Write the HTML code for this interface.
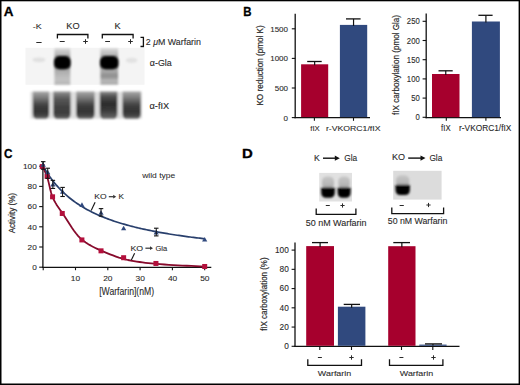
<!DOCTYPE html>
<html><head><meta charset="utf-8"><style>
html,body{margin:0;padding:0;background:#fff;width:520px;height:385px;overflow:hidden}
svg{display:block}
text{font-family:"Liberation Sans", sans-serif}
</style></head><body>
<svg width="520" height="385" viewBox="0 0 520 385" font-family="Liberation Sans, sans-serif"><defs>
<filter id="b05" x="-20%" y="-20%" width="140%" height="140%"><feGaussianBlur stdDeviation="0.5"/></filter>
<filter id="b08" x="-30%" y="-30%" width="160%" height="160%"><feGaussianBlur stdDeviation="0.8"/></filter>
<filter id="b1" x="-50%" y="-50%" width="200%" height="200%"><feGaussianBlur stdDeviation="1.1"/></filter>
<filter id="b15" x="-50%" y="-50%" width="200%" height="200%"><feGaussianBlur stdDeviation="1.5"/></filter>
<linearGradient id="lane" x1="0" y1="0" x2="0" y2="1">
<stop offset="0" stop-color="#a8a8a8"/><stop offset="0.22" stop-color="#7c7c7c"/><stop offset="0.5" stop-color="#404040"/><stop offset="0.75" stop-color="#323232"/><stop offset="0.9" stop-color="#474747"/><stop offset="1" stop-color="#6e6e6e"/></linearGradient>
<linearGradient id="lane2" x1="0" y1="0" x2="0" y2="1">
<stop offset="0" stop-color="#909090"/><stop offset="0.25" stop-color="#5a5a5a"/><stop offset="0.55" stop-color="#424242"/><stop offset="0.8" stop-color="#3c3c3c"/><stop offset="1" stop-color="#606060"/></linearGradient>
<linearGradient id="lane4" x1="0" y1="0" x2="0" y2="1">
<stop offset="0" stop-color="#8c8c8c"/><stop offset="0.2" stop-color="#4a4a4a"/><stop offset="0.45" stop-color="#2c2c2c"/><stop offset="0.7" stop-color="#3a3a3a"/><stop offset="1" stop-color="#6a6a6a"/></linearGradient>
<linearGradient id="smear" x1="0" y1="0" x2="0" y2="1">
<stop offset="0" stop-color="#8c8c8c"/><stop offset="0.25" stop-color="#acacac"/><stop offset="0.7" stop-color="#c2c2c2"/><stop offset="0.9" stop-color="#bcbcbc"/><stop offset="1" stop-color="#a4a4a4"/></linearGradient>
<linearGradient id="smear4" x1="0" y1="0" x2="0" y2="1">
<stop offset="0" stop-color="#8a8a8a"/><stop offset="0.22" stop-color="#aaaaaa"/><stop offset="0.38" stop-color="#a0a0a0"/><stop offset="0.5" stop-color="#8e8e8e"/><stop offset="0.62" stop-color="#999"/><stop offset="0.8" stop-color="#bababa"/><stop offset="1" stop-color="#a4a4a4"/></linearGradient>
<linearGradient id="topsm" x1="0" y1="0" x2="0" y2="1">
<stop offset="0" stop-color="#dadada"/><stop offset="0.6" stop-color="#b8b8b8"/><stop offset="1" stop-color="#9a9a9a"/></linearGradient>
<linearGradient id="dtop" x1="0" y1="0" x2="0" y2="1">
<stop offset="0" stop-color="#c6c6c6"/><stop offset="0.6" stop-color="#b8b8b8"/><stop offset="1" stop-color="#a8a8a8"/></linearGradient>
</defs>
<rect x="0.00" y="0.00" width="520.00" height="1.30" fill="#000"/>
<rect x="0.00" y="0.00" width="1.50" height="385.00" fill="#000"/>
<rect x="518.60" y="0.00" width="1.40" height="385.00" fill="#000"/>
<rect x="0.00" y="383.50" width="520.00" height="1.50" fill="#000"/>
<text transform="translate(3.86,16.20) scale(1.078,1)" font-size="12.46" font-weight="bold" fill="#000" stroke="#000" stroke-width="0.3">A</text>
<text transform="translate(32.80,29.00) scale(1.115,1)" font-size="7.97" fill="#2a2a2a" stroke="#2a2a2a" stroke-width="0.1">-K</text>
<text transform="translate(66.26,29.20) scale(1.074,1)" font-size="8.57" fill="#2a2a2a" stroke="#2a2a2a" stroke-width="0.1">KO</text>
<text transform="translate(114.56,29.00) scale(1.116,1)" font-size="8.26" fill="#2a2a2a" stroke="#2a2a2a" stroke-width="0.1">K</text>
<path d="M57.4,38.6 V34.5 H87.9 V38.6" stroke="#111" stroke-width="1.3" fill="none"/>
<path d="M102.3,38.4 V34.5 H133.1 V38.4" stroke="#111" stroke-width="1.3" fill="none"/>
<line x1="36.30" y1="42.50" x2="41.60" y2="42.50" stroke="#2a2a2a" stroke-width="1.0"/>
<line x1="59.70" y1="41.50" x2="64.70" y2="41.50" stroke="#2a2a2a" stroke-width="1.0"/>
<line x1="83.20" y1="41.50" x2="87.80" y2="41.50" stroke="#2a2a2a" stroke-width="1.0"/>
<line x1="85.50" y1="39.20" x2="85.50" y2="43.80" stroke="#2a2a2a" stroke-width="1.0"/>
<line x1="105.20" y1="41.50" x2="110.00" y2="41.50" stroke="#2a2a2a" stroke-width="1.0"/>
<line x1="128.20" y1="41.50" x2="132.80" y2="41.50" stroke="#2a2a2a" stroke-width="1.0"/>
<line x1="130.50" y1="39.20" x2="130.50" y2="43.80" stroke="#2a2a2a" stroke-width="1.0"/>
<path d="M140.5,37.3 H143.4 V46.5 H140.5" stroke="#111" stroke-width="1.3" fill="none"/>
<text transform="translate(145.76,44.80) scale(0.974,1)" font-size="9.10" fill="#2a2a2a" stroke="#2a2a2a" stroke-width="0.1">2 <tspan font-style="italic">μ</tspan>M Warfarin</text>
<text transform="translate(149.84,66.40) scale(1.009,1)" font-size="8.83" fill="#2a2a2a" stroke="#2a2a2a" stroke-width="0.1">α-Gla</text>
<text transform="translate(149.53,109.20) scale(1.062,1)" font-size="8.69" fill="#2a2a2a" stroke="#2a2a2a" stroke-width="0.1">α-fIX</text>
<g filter="url(#b05)">
<rect x="25.50" y="47.80" width="119.00" height="37.00" fill="#f4f4f4"/>
</g>
<ellipse cx="39" cy="59.8" rx="6.5" ry="2.4" fill="#e0e0e0" filter="url(#b1)"/>
<ellipse cx="131.6" cy="60.4" rx="5.8" ry="2.6" fill="#e2e2e2" filter="url(#b1)"/>
<g filter="url(#b08)"><rect x="54.4" y="48.3" width="15.899999999999993" height="10" fill="url(#topsm)"/><rect x="54.4" y="66" width="15.899999999999993" height="18.6" fill="url(#smear)"/></g><rect x="53.9" y="56.0" width="16.89999999999999" height="13.3" rx="6" ry="5" fill="#000" filter="url(#b08)"/>
<g filter="url(#b08)"><rect x="100.39999999999999" y="48.3" width="17.70000000000001" height="10" fill="url(#topsm)"/><rect x="100.39999999999999" y="66" width="17.70000000000001" height="18.6" fill="url(#smear4)"/></g><rect x="99.89999999999999" y="56.0" width="18.70000000000001" height="13.3" rx="6" ry="5" fill="#000" filter="url(#b08)"/>
<g filter="url(#b1)">
<rect x="30.50" y="91.80" width="111.50" height="26.90" fill="#dedede"/>
<path d="M32.8,91.6 H49.2 V113.5 Q49.2,118.8 45.2,118.8 H36.8 Q32.8,118.8 32.8,113.5 Z" fill="url(#lane)"/>
<path d="M53.3,91.6 H70.6 V113.5 Q70.6,118.8 66.6,118.8 H57.3 Q53.3,118.8 53.3,113.5 Z" fill="url(#lane2)"/>
<path d="M76.2,91.6 H94.6 V113.5 Q94.6,118.8 90.6,118.8 H80.2 Q76.2,118.8 76.2,113.5 Z" fill="url(#lane)"/>
<path d="M99.8,91.6 H117.4 V113.5 Q117.4,118.8 113.4,118.8 H103.8 Q99.8,118.8 99.8,113.5 Z" fill="url(#lane4)"/>
<path d="M122.5,91.6 H140.8 V113.5 Q140.8,118.8 136.8,118.8 H126.5 Q122.5,118.8 122.5,113.5 Z" fill="url(#lane)"/>
</g>
<text transform="translate(243.25,16.20) scale(0.921,1)" font-size="12.46" font-weight="bold" fill="#000" stroke="#000" stroke-width="0.3">B</text>
<line x1="295.20" y1="13.80" x2="295.20" y2="118.30" stroke="#111" stroke-width="1.3"/>
<line x1="294.50" y1="117.70" x2="370.00" y2="117.70" stroke="#111" stroke-width="1.3"/>
<line x1="291.80" y1="117.60" x2="295.20" y2="117.60" stroke="#111" stroke-width="1.1"/>
<text transform="translate(283.58,120.50) scale(1.000,1)" font-size="8.00" fill="#2a2a2a" stroke="#2a2a2a" stroke-width="0.1">0</text>
<line x1="291.80" y1="88.00" x2="295.20" y2="88.00" stroke="#111" stroke-width="1.1"/>
<text transform="translate(274.70,90.90) scale(1.000,1)" font-size="8.00" fill="#2a2a2a" stroke="#2a2a2a" stroke-width="0.1">500</text>
<line x1="291.80" y1="58.40" x2="295.20" y2="58.40" stroke="#111" stroke-width="1.1"/>
<text transform="translate(270.22,61.30) scale(1.000,1)" font-size="8.00" fill="#2a2a2a" stroke="#2a2a2a" stroke-width="0.1">1000</text>
<line x1="291.80" y1="28.80" x2="295.20" y2="28.80" stroke="#111" stroke-width="1.1"/>
<text transform="translate(270.22,31.70) scale(1.000,1)" font-size="8.00" fill="#2a2a2a" stroke="#2a2a2a" stroke-width="0.1">1500</text>
<text transform="translate(262.60,105.55) rotate(-90) scale(0.950,1)" font-size="8.55" fill="#2a2a2a" stroke="#2a2a2a" stroke-width="0.2">KO reduction (pmol K)</text>
<rect x="301.10" y="64.30" width="27.10" height="52.80" fill="#a6002d"/>
<line x1="314.65" y1="61.50" x2="314.65" y2="65.30" stroke="#111" stroke-width="1.2"/>
<line x1="307.20" y1="61.50" x2="321.70" y2="61.50" stroke="#111" stroke-width="1.3"/>
<rect x="339.90" y="24.90" width="27.30" height="92.20" fill="#30497e"/>
<line x1="353.55" y1="18.90" x2="353.55" y2="25.90" stroke="#111" stroke-width="1.2"/>
<line x1="346.00" y1="18.90" x2="360.60" y2="18.90" stroke="#111" stroke-width="1.3"/>
<line x1="314.40" y1="117.70" x2="314.40" y2="120.80" stroke="#111" stroke-width="1.1"/>
<line x1="353.50" y1="117.70" x2="353.50" y2="120.80" stroke="#111" stroke-width="1.1"/>
<text transform="translate(310.28,131.00) scale(0.970,1)" font-size="8.00" fill="#2a2a2a" stroke="#2a2a2a" stroke-width="0.1">fIX</text>
<text transform="translate(325.93,131.00) scale(1.088,1)" font-size="8.00" fill="#2a2a2a" stroke="#2a2a2a" stroke-width="0.1">r-VKORC1/fIX</text>
<line x1="426.20" y1="13.40" x2="426.20" y2="118.30" stroke="#111" stroke-width="1.3"/>
<line x1="425.50" y1="117.70" x2="501.00" y2="117.70" stroke="#111" stroke-width="1.3"/>
<line x1="422.60" y1="117.30" x2="426.20" y2="117.30" stroke="#111" stroke-width="1.1"/>
<text transform="translate(415.43,120.40) scale(0.900,1)" font-size="8.57" fill="#2a2a2a" stroke="#2a2a2a" stroke-width="0.1">0</text>
<line x1="422.60" y1="98.10" x2="426.20" y2="98.10" stroke="#111" stroke-width="1.1"/>
<text transform="translate(411.15,101.20) scale(0.900,1)" font-size="8.57" fill="#2a2a2a" stroke="#2a2a2a" stroke-width="0.1">50</text>
<line x1="422.60" y1="78.90" x2="426.20" y2="78.90" stroke="#111" stroke-width="1.1"/>
<text transform="translate(406.86,82.00) scale(0.900,1)" font-size="8.57" fill="#2a2a2a" stroke="#2a2a2a" stroke-width="0.1">100</text>
<line x1="422.60" y1="59.70" x2="426.20" y2="59.70" stroke="#111" stroke-width="1.1"/>
<text transform="translate(406.86,62.80) scale(0.900,1)" font-size="8.57" fill="#2a2a2a" stroke="#2a2a2a" stroke-width="0.1">150</text>
<line x1="422.60" y1="40.50" x2="426.20" y2="40.50" stroke="#111" stroke-width="1.1"/>
<text transform="translate(406.86,43.60) scale(0.900,1)" font-size="8.57" fill="#2a2a2a" stroke="#2a2a2a" stroke-width="0.1">200</text>
<line x1="422.60" y1="21.30" x2="426.20" y2="21.30" stroke="#111" stroke-width="1.1"/>
<text transform="translate(406.86,24.40) scale(0.900,1)" font-size="8.57" fill="#2a2a2a" stroke="#2a2a2a" stroke-width="0.1">250</text>
<text transform="translate(398.90,115.02) rotate(-90) scale(0.905,1)" font-size="8.97" fill="#2a2a2a" stroke="#2a2a2a" stroke-width="0.2">fIX carboxylation (pmol Gla)</text>
<rect x="432.00" y="74.00" width="27.50" height="43.10" fill="#a6002d"/>
<line x1="445.75" y1="70.80" x2="445.75" y2="75.00" stroke="#111" stroke-width="1.2"/>
<line x1="438.50" y1="70.80" x2="452.70" y2="70.80" stroke="#111" stroke-width="1.3"/>
<rect x="471.90" y="21.50" width="28.00" height="95.60" fill="#30497e"/>
<line x1="485.90" y1="15.30" x2="485.90" y2="22.50" stroke="#111" stroke-width="1.2"/>
<line x1="478.40" y1="15.30" x2="492.60" y2="15.30" stroke="#111" stroke-width="1.3"/>
<line x1="446.30" y1="117.70" x2="446.30" y2="120.80" stroke="#111" stroke-width="1.1"/>
<line x1="485.90" y1="117.70" x2="485.90" y2="120.80" stroke="#111" stroke-width="1.1"/>
<text transform="translate(441.08,131.10) scale(0.908,1)" font-size="8.55" fill="#2a2a2a" stroke="#2a2a2a" stroke-width="0.1">fIX</text>
<text transform="translate(459.06,131.10) scale(0.975,1)" font-size="8.55" fill="#2a2a2a" stroke="#2a2a2a" stroke-width="0.1">r-VKORC1/fIX</text>
<text transform="translate(3.93,157.80) scale(0.866,1)" font-size="13.57" font-weight="bold" fill="#000" stroke="#000" stroke-width="0.3">C</text>
<line x1="42.90" y1="162.30" x2="42.90" y2="268.00" stroke="#111" stroke-width="1.3"/>
<line x1="42.20" y1="267.30" x2="211.30" y2="267.30" stroke="#111" stroke-width="1.3"/>
<line x1="39.20" y1="267.20" x2="42.90" y2="267.20" stroke="#111" stroke-width="1.1"/>
<text transform="translate(32.15,269.95) scale(1.050,1)" font-size="7.86" fill="#2a2a2a" stroke="#2a2a2a" stroke-width="0.1">0</text>
<line x1="39.20" y1="247.00" x2="42.90" y2="247.00" stroke="#111" stroke-width="1.1"/>
<text transform="translate(27.57,249.75) scale(1.050,1)" font-size="7.86" fill="#2a2a2a" stroke="#2a2a2a" stroke-width="0.1">20</text>
<line x1="39.20" y1="226.80" x2="42.90" y2="226.80" stroke="#111" stroke-width="1.1"/>
<text transform="translate(27.57,229.55) scale(1.050,1)" font-size="7.86" fill="#2a2a2a" stroke="#2a2a2a" stroke-width="0.1">40</text>
<line x1="39.20" y1="206.60" x2="42.90" y2="206.60" stroke="#111" stroke-width="1.1"/>
<text transform="translate(27.57,209.35) scale(1.050,1)" font-size="7.86" fill="#2a2a2a" stroke="#2a2a2a" stroke-width="0.1">60</text>
<line x1="39.20" y1="186.40" x2="42.90" y2="186.40" stroke="#111" stroke-width="1.1"/>
<text transform="translate(27.57,189.15) scale(1.050,1)" font-size="7.86" fill="#2a2a2a" stroke="#2a2a2a" stroke-width="0.1">80</text>
<line x1="39.20" y1="166.20" x2="42.90" y2="166.20" stroke="#111" stroke-width="1.1"/>
<text transform="translate(22.99,168.95) scale(1.050,1)" font-size="7.86" fill="#2a2a2a" stroke="#2a2a2a" stroke-width="0.1">100</text>
<line x1="43.20" y1="267.30" x2="43.20" y2="270.20" stroke="#111" stroke-width="1.1"/>
<line x1="75.50" y1="267.30" x2="75.50" y2="270.20" stroke="#111" stroke-width="1.1"/>
<text transform="translate(70.79,280.80) scale(1.050,1)" font-size="8.00" fill="#2a2a2a" stroke="#2a2a2a" stroke-width="0.1">10</text>
<line x1="107.80" y1="267.30" x2="107.80" y2="270.20" stroke="#111" stroke-width="1.1"/>
<text transform="translate(103.20,280.80) scale(1.050,1)" font-size="8.00" fill="#2a2a2a" stroke="#2a2a2a" stroke-width="0.1">20</text>
<line x1="140.10" y1="267.30" x2="140.10" y2="270.20" stroke="#111" stroke-width="1.1"/>
<text transform="translate(135.54,280.80) scale(1.050,1)" font-size="8.00" fill="#2a2a2a" stroke="#2a2a2a" stroke-width="0.1">30</text>
<line x1="172.40" y1="267.30" x2="172.40" y2="270.20" stroke="#111" stroke-width="1.1"/>
<text transform="translate(167.90,280.80) scale(1.050,1)" font-size="8.00" fill="#2a2a2a" stroke="#2a2a2a" stroke-width="0.1">40</text>
<line x1="204.70" y1="267.30" x2="204.70" y2="270.20" stroke="#111" stroke-width="1.1"/>
<text transform="translate(200.14,280.80) scale(1.050,1)" font-size="8.00" fill="#2a2a2a" stroke="#2a2a2a" stroke-width="0.1">50</text>
<text transform="translate(99.14,294.50) scale(0.839,1)" font-size="10.34" fill="#2a2a2a" stroke="#2a2a2a" stroke-width="0.1">[Warfarin](nM)</text>
<text transform="translate(15.20,233.34) rotate(-90) scale(0.889,1)" font-size="9.10" fill="#2a2a2a" stroke="#2a2a2a" stroke-width="0.2">Activity (%)</text>
<text transform="translate(142.20,178.10) scale(1.118,1)" font-size="7.59" fill="#2a2a2a" stroke="#2a2a2a" stroke-width="0.05">wild type</text>
<text transform="translate(94.32,198.60) scale(1.065,1)" font-size="8.00" fill="#2a2a2a" stroke="#2a2a2a" stroke-width="0.1">KO</text>
<text transform="translate(118.45,198.60) scale(1.007,1)" font-size="8.12" fill="#2a2a2a" stroke="#2a2a2a" stroke-width="0.1">K</text>
<text transform="translate(130.49,250.60) scale(1.144,1)" font-size="7.71" fill="#2a2a2a" stroke="#2a2a2a" stroke-width="0.1">KO</text>
<text transform="translate(155.42,250.60) scale(0.972,1)" font-size="7.72" fill="#2a2a2a" stroke="#2a2a2a" stroke-width="0.1">Gla</text>
<line x1="108.80" y1="196.70" x2="113.70" y2="196.70" stroke="#333" stroke-width="1.2"/>
<path d="M113.2,194.79999999999998 L116.2,196.7 L113.2,198.6 Z" fill="#333"/>
<line x1="145.40" y1="248.20" x2="150.50" y2="248.20" stroke="#333" stroke-width="1.2"/>
<path d="M150.0,246.29999999999998 L153.0,248.2 L150.0,250.1 Z" fill="#333"/>
<line x1="95.10" y1="202.30" x2="91.20" y2="210.40" stroke="#111" stroke-width="1.1"/>
<line x1="134.60" y1="253.30" x2="130.90" y2="260.90" stroke="#111" stroke-width="1.1"/>
<polyline points="42.50,166.40 42.95,167.39 43.40,168.34 43.85,169.27 44.30,170.20 44.75,171.14 45.20,172.10 45.65,173.11 46.10,174.16 46.55,175.29 47.00,176.50 47.52,178.13 48.05,180.03 48.58,182.14 49.10,184.37 49.62,186.66 50.15,188.93 50.67,191.10 51.20,193.10 51.73,194.86 52.25,196.30 53.28,198.65 54.32,200.76 55.36,202.66 56.39,204.40 57.42,206.01 58.46,207.52 59.49,208.98 60.53,210.42 61.56,211.88 62.60,213.40 64.53,216.35 66.46,219.35 68.39,222.35 70.32,225.31 72.25,228.19 74.18,230.93 76.11,233.49 78.04,235.81 79.97,237.87 81.90,239.60 83.82,241.09 85.74,242.46 87.66,243.73 89.58,244.90 91.50,246.00 93.42,247.02 95.34,247.98 97.26,248.89 99.18,249.76 101.10,250.60 104.08,251.87 107.06,253.11 110.04,254.31 113.02,255.45 116.00,256.53 118.98,257.54 121.96,258.46 124.94,259.28 127.92,260.00 130.90,260.60 133.81,261.11 136.72,261.57 139.63,262.01 142.54,262.41 145.45,262.78 148.36,263.11 151.27,263.42 154.18,263.71 157.09,263.96 160.00,264.20 164.47,264.52 168.94,264.81 173.41,265.07 177.88,265.31 182.35,265.53 186.82,265.74 191.29,265.95 195.76,266.15 200.23,266.37 204.70,266.60" fill="none" stroke="#870a2c" stroke-width="1.8" stroke-linejoin="round"/>
<polyline points="43.20,166.20 44.82,169.00 46.43,171.65 48.05,174.15 49.66,176.51 51.28,178.76 52.89,180.89 54.51,182.92 56.12,184.85 57.73,186.68 59.35,188.44 60.97,190.11 62.58,191.72 64.20,193.25 65.81,194.72 67.43,196.13 69.04,197.48 70.66,198.78 72.27,200.02 73.89,201.22 75.50,202.38 77.12,203.49 78.73,204.57 80.34,205.60 81.96,206.60 83.58,207.57 85.19,208.50 86.81,209.40 88.42,210.27 90.03,211.12 91.65,211.94 93.27,212.73 94.88,213.50 96.50,214.24 98.11,214.97 99.72,215.67 101.34,216.35 102.96,217.01 104.57,217.66 106.19,218.29 107.80,218.90 109.42,219.49 111.03,220.07 112.64,220.63 114.26,221.18 115.88,221.71 117.49,222.23 119.11,222.74 120.72,223.24 122.34,223.72 123.95,224.19 125.56,224.65 127.18,225.10 128.80,225.54 130.41,225.97 132.03,226.39 133.64,226.80 135.25,227.20 136.87,227.59 138.49,227.98 140.10,228.35 141.72,228.72 143.33,229.08 144.94,229.43 146.56,229.78 148.18,230.12 149.79,230.45 151.41,230.78 153.02,231.09 154.63,231.41 156.25,231.71 157.87,232.01 159.48,232.31 161.09,232.60 162.71,232.88 164.32,233.16 165.94,233.44 167.56,233.70 169.17,233.97 170.78,234.23 172.40,234.48 174.01,234.73 175.63,234.98 177.25,235.22 178.86,235.46 180.48,235.69 182.09,235.92 183.70,236.15 185.32,236.37 186.94,236.59 188.55,236.80 190.17,237.01 191.78,237.22 193.39,237.43 195.01,237.63 196.62,237.83 198.24,238.02 199.86,238.21 201.47,238.40 203.08,238.59 204.70,238.77" fill="none" stroke="#283f6c" stroke-width="1.7"/>
<rect x="39.73" y="164.10" width="5.00" height="5.00" fill="#b3103c"/>
<rect x="44.58" y="173.80" width="5.00" height="5.00" fill="#b3103c"/>
<rect x="50.07" y="194.30" width="5.00" height="5.00" fill="#b3103c"/>
<rect x="59.76" y="210.97" width="5.00" height="5.00" fill="#b3103c"/>
<rect x="79.40" y="237.43" width="5.00" height="5.00" fill="#b3103c"/>
<rect x="98.52" y="248.34" width="5.00" height="5.00" fill="#b3103c"/>
<rect x="121.13" y="255.21" width="5.00" height="5.00" fill="#b3103c"/>
<rect x="153.43" y="260.96" width="5.00" height="5.00" fill="#b3103c"/>
<rect x="202.20" y="263.99" width="5.00" height="5.00" fill="#b3103c"/>
<path d="M40.60,166.78 L45.80,166.78 L43.20,162.19 Z" fill="#30497e"/>
<path d="M45.12,174.36 L50.32,174.36 L47.72,169.76 Z" fill="#30497e"/>
<path d="M50.29,186.48 L55.49,186.48 L52.89,181.88 Z" fill="#30497e"/>
<path d="M59.98,193.75 L65.18,193.75 L62.58,189.15 Z" fill="#30497e"/>
<path d="M79.36,206.88 L84.56,206.88 L81.96,202.28 Z" fill="#30497e"/>
<path d="M98.42,214.76 L103.62,214.76 L101.02,210.16 Z" fill="#30497e"/>
<path d="M121.03,230.31 L126.23,230.31 L123.63,225.71 Z" fill="#30497e"/>
<path d="M153.65,234.45 L158.85,234.45 L156.25,229.85 Z" fill="#30497e"/>
<path d="M202.10,241.52 L207.30,241.52 L204.70,236.92 Z" fill="#30497e"/>
<line x1="43.20" y1="161.65" x2="43.20" y2="169.23" stroke="#111" stroke-width="1.0"/>
<line x1="40.95" y1="161.65" x2="45.45" y2="161.65" stroke="#111" stroke-width="1.1"/>
<line x1="40.95" y1="169.23" x2="45.45" y2="169.23" stroke="#111" stroke-width="1.1"/>
<line x1="47.72" y1="168.22" x2="47.72" y2="178.32" stroke="#111" stroke-width="1.0"/>
<line x1="45.47" y1="168.22" x2="49.97" y2="168.22" stroke="#111" stroke-width="1.1"/>
<line x1="45.47" y1="178.32" x2="49.97" y2="178.32" stroke="#111" stroke-width="1.1"/>
<line x1="52.89" y1="180.34" x2="52.89" y2="188.42" stroke="#111" stroke-width="1.0"/>
<line x1="50.64" y1="180.34" x2="55.14" y2="180.34" stroke="#111" stroke-width="1.1"/>
<line x1="50.64" y1="188.42" x2="55.14" y2="188.42" stroke="#111" stroke-width="1.1"/>
<line x1="62.58" y1="187.41" x2="62.58" y2="196.50" stroke="#111" stroke-width="1.0"/>
<line x1="60.33" y1="187.41" x2="64.83" y2="187.41" stroke="#111" stroke-width="1.1"/>
<line x1="60.33" y1="196.50" x2="64.83" y2="196.50" stroke="#111" stroke-width="1.1"/>
<line x1="101.02" y1="208.62" x2="101.02" y2="216.09" stroke="#111" stroke-width="1.0"/>
<line x1="98.77" y1="208.62" x2="103.27" y2="208.62" stroke="#111" stroke-width="1.1"/>
<line x1="98.77" y1="216.09" x2="103.27" y2="216.09" stroke="#111" stroke-width="1.1"/>
<line x1="156.25" y1="228.21" x2="156.25" y2="235.89" stroke="#111" stroke-width="1.0"/>
<line x1="154.00" y1="228.21" x2="158.50" y2="228.21" stroke="#111" stroke-width="1.1"/>
<line x1="154.00" y1="235.89" x2="158.50" y2="235.89" stroke="#111" stroke-width="1.1"/>
<text transform="translate(241.93,157.60) scale(1.166,1)" font-size="12.83" font-weight="bold" fill="#000" stroke="#000" stroke-width="0.3">D</text>
<text transform="translate(313.90,160.60) scale(1.034,1)" font-size="8.41" fill="#2a2a2a" stroke="#2a2a2a" stroke-width="0.1">K</text>
<line x1="323.00" y1="158.20" x2="335.30" y2="158.20" stroke="#111" stroke-width="1.4"/>
<path d="M334.8,155.6 L339.8,158.2 L334.8,160.79999999999998 Z" fill="#111"/>
<text transform="translate(344.28,160.60) scale(0.956,1)" font-size="8.69" fill="#2a2a2a" stroke="#2a2a2a" stroke-width="0.1">Gla</text>
<text transform="translate(392.08,160.40) scale(1.092,1)" font-size="8.29" fill="#2a2a2a" stroke="#2a2a2a" stroke-width="0.1">KO</text>
<line x1="408.20" y1="158.10" x2="421.00" y2="158.10" stroke="#111" stroke-width="1.4"/>
<path d="M420.5,155.5 L425.5,158.1 L420.5,160.7 Z" fill="#111"/>
<text transform="translate(429.38,160.50) scale(0.956,1)" font-size="8.69" fill="#2a2a2a" stroke="#2a2a2a" stroke-width="0.1">Gla</text>
<g filter="url(#b05)">
<rect x="319.20" y="172.90" width="32.80" height="28.60" fill="#e1e1e1"/>
</g>
<g filter="url(#b08)"><rect x="322.0" y="176.6" width="12.000000000000023" height="12" rx="5" ry="4" fill="url(#dtop)"/><path d="M321.2,187.4 H334.8 V192 Q334.8,197.8 329.8,197.8 H326.2 Q321.2,197.8 321.2,192 Z" fill="#050505"/></g>
<g filter="url(#b08)"><rect x="338.40000000000003" y="176.6" width="11.4" height="12" rx="5" ry="4" fill="url(#dtop)"/><path d="M337.6,187.4 H350.6 V192 Q350.6,197.8 345.6,197.8 H342.6 Q337.6,197.8 337.6,192 Z" fill="#050505"/></g>
<g filter="url(#b05)">
<rect x="393.20" y="170.80" width="48.40" height="28.80" fill="#dcdcdc"/>
</g>
<g filter="url(#b08)"><rect x="396.1" y="175.2" width="13.199999999999978" height="11.5" rx="5.5" ry="4.5" fill="url(#dtop)"/><path d="M395.5,184.8 H409.9 V189.5 Q409.9,195.1 404.9,195.1 H400.5 Q395.5,195.1 395.5,189.5 Z" fill="#050505"/></g>
<line x1="325.80" y1="205.50" x2="329.80" y2="205.50" stroke="#2a2a2a" stroke-width="1.0"/>
<line x1="340.40" y1="205.50" x2="344.60" y2="205.50" stroke="#2a2a2a" stroke-width="1.0"/>
<line x1="342.50" y1="203.40" x2="342.50" y2="207.60" stroke="#2a2a2a" stroke-width="1.0"/>
<line x1="399.60" y1="205.50" x2="403.80" y2="205.50" stroke="#2a2a2a" stroke-width="1.0"/>
<line x1="426.40" y1="205.00" x2="430.60" y2="205.00" stroke="#2a2a2a" stroke-width="1.0"/>
<line x1="428.50" y1="202.90" x2="428.50" y2="207.10" stroke="#2a2a2a" stroke-width="1.0"/>
<path d="M316.2,208.4 V214.3 H355.9 V208.4" stroke="#111" stroke-width="1.3" fill="none"/>
<path d="M391.8,207.4 V213.6 H443.6 V207.4" stroke="#111" stroke-width="1.3" fill="none"/>
<text transform="translate(305.74,226.10) scale(1.082,1)" font-size="8.28" fill="#2a2a2a" stroke="#2a2a2a" stroke-width="0.1">50 nM Warfarin</text>
<text transform="translate(387.75,224.10) scale(1.011,1)" font-size="8.69" fill="#2a2a2a" stroke="#2a2a2a" stroke-width="0.1">50 nM Warfarin</text>
<line x1="295.00" y1="242.60" x2="295.00" y2="347.00" stroke="#111" stroke-width="1.3"/>
<line x1="294.40" y1="346.40" x2="459.50" y2="346.40" stroke="#111" stroke-width="1.3"/>
<line x1="291.60" y1="346.30" x2="295.00" y2="346.30" stroke="#111" stroke-width="1.1"/>
<text transform="translate(284.13,349.20) scale(1.000,1)" font-size="8.29" fill="#2a2a2a" stroke="#2a2a2a" stroke-width="0.1">0</text>
<line x1="291.60" y1="327.06" x2="295.00" y2="327.06" stroke="#111" stroke-width="1.1"/>
<text transform="translate(279.53,329.96) scale(1.000,1)" font-size="8.29" fill="#2a2a2a" stroke="#2a2a2a" stroke-width="0.1">20</text>
<line x1="291.60" y1="307.82" x2="295.00" y2="307.82" stroke="#111" stroke-width="1.1"/>
<text transform="translate(279.53,310.72) scale(1.000,1)" font-size="8.29" fill="#2a2a2a" stroke="#2a2a2a" stroke-width="0.1">40</text>
<line x1="291.60" y1="288.58" x2="295.00" y2="288.58" stroke="#111" stroke-width="1.1"/>
<text transform="translate(279.53,291.48) scale(1.000,1)" font-size="8.29" fill="#2a2a2a" stroke="#2a2a2a" stroke-width="0.1">60</text>
<line x1="291.60" y1="269.34" x2="295.00" y2="269.34" stroke="#111" stroke-width="1.1"/>
<text transform="translate(279.53,272.24) scale(1.000,1)" font-size="8.29" fill="#2a2a2a" stroke="#2a2a2a" stroke-width="0.1">80</text>
<line x1="291.60" y1="250.10" x2="295.00" y2="250.10" stroke="#111" stroke-width="1.1"/>
<text transform="translate(274.94,253.00) scale(1.000,1)" font-size="8.29" fill="#2a2a2a" stroke="#2a2a2a" stroke-width="0.1">100</text>
<text transform="translate(267.40,330.82) rotate(-90) scale(0.889,1)" font-size="8.97" fill="#2a2a2a" stroke="#2a2a2a" stroke-width="0.2">fIX carboxylation (%)</text>
<rect x="306.20" y="246.10" width="27.80" height="99.70" fill="#a6002d"/>
<line x1="320.10" y1="242.60" x2="320.10" y2="247.10" stroke="#111" stroke-width="1.2"/>
<line x1="312.00" y1="242.60" x2="328.00" y2="242.60" stroke="#111" stroke-width="1.3"/>
<rect x="337.90" y="306.70" width="27.50" height="39.10" fill="#30497e"/>
<line x1="351.65" y1="304.40" x2="351.65" y2="307.70" stroke="#111" stroke-width="1.2"/>
<line x1="343.70" y1="304.40" x2="360.00" y2="304.40" stroke="#111" stroke-width="1.3"/>
<rect x="388.20" y="246.20" width="27.30" height="99.60" fill="#a6002d"/>
<line x1="401.85" y1="242.60" x2="401.85" y2="247.20" stroke="#111" stroke-width="1.2"/>
<line x1="393.30" y1="242.60" x2="410.00" y2="242.60" stroke="#111" stroke-width="1.3"/>
<rect x="419.30" y="344.60" width="27.30" height="1.20" fill="#30497e"/>
<line x1="432.95" y1="343.90" x2="432.95" y2="345.60" stroke="#111" stroke-width="1.2"/>
<line x1="425.00" y1="343.90" x2="442.00" y2="343.90" stroke="#111" stroke-width="1.3"/>
<line x1="319.80" y1="346.40" x2="319.80" y2="350.00" stroke="#111" stroke-width="1.1"/>
<line x1="351.50" y1="346.40" x2="351.50" y2="350.00" stroke="#111" stroke-width="1.1"/>
<line x1="401.50" y1="346.40" x2="401.50" y2="350.00" stroke="#111" stroke-width="1.1"/>
<line x1="432.80" y1="346.40" x2="432.80" y2="350.00" stroke="#111" stroke-width="1.1"/>
<line x1="317.90" y1="357.50" x2="321.90" y2="357.50" stroke="#2a2a2a" stroke-width="1.0"/>
<line x1="349.30" y1="357.50" x2="353.70" y2="357.50" stroke="#2a2a2a" stroke-width="1.0"/>
<line x1="351.50" y1="355.30" x2="351.50" y2="359.70" stroke="#2a2a2a" stroke-width="1.0"/>
<line x1="399.40" y1="357.50" x2="403.40" y2="357.50" stroke="#2a2a2a" stroke-width="1.0"/>
<line x1="431.30" y1="357.50" x2="435.70" y2="357.50" stroke="#2a2a2a" stroke-width="1.0"/>
<line x1="433.50" y1="355.30" x2="433.50" y2="359.70" stroke="#2a2a2a" stroke-width="1.0"/>
<path d="M307.8,359.2 V365.3 H361.5 V359.2" stroke="#111" stroke-width="1.3" fill="none"/>
<path d="M389.5,359.2 V365.4 H442.9 V359.2" stroke="#111" stroke-width="1.3" fill="none"/>
<text transform="translate(317.86,376.00) scale(1.117,1)" font-size="8.00" fill="#2a2a2a" stroke="#2a2a2a" stroke-width="0.1">Warfarin</text>
<text transform="translate(399.86,376.00) scale(1.114,1)" font-size="8.00" fill="#2a2a2a" stroke="#2a2a2a" stroke-width="0.1">Warfarin</text></svg>
</body></html>
